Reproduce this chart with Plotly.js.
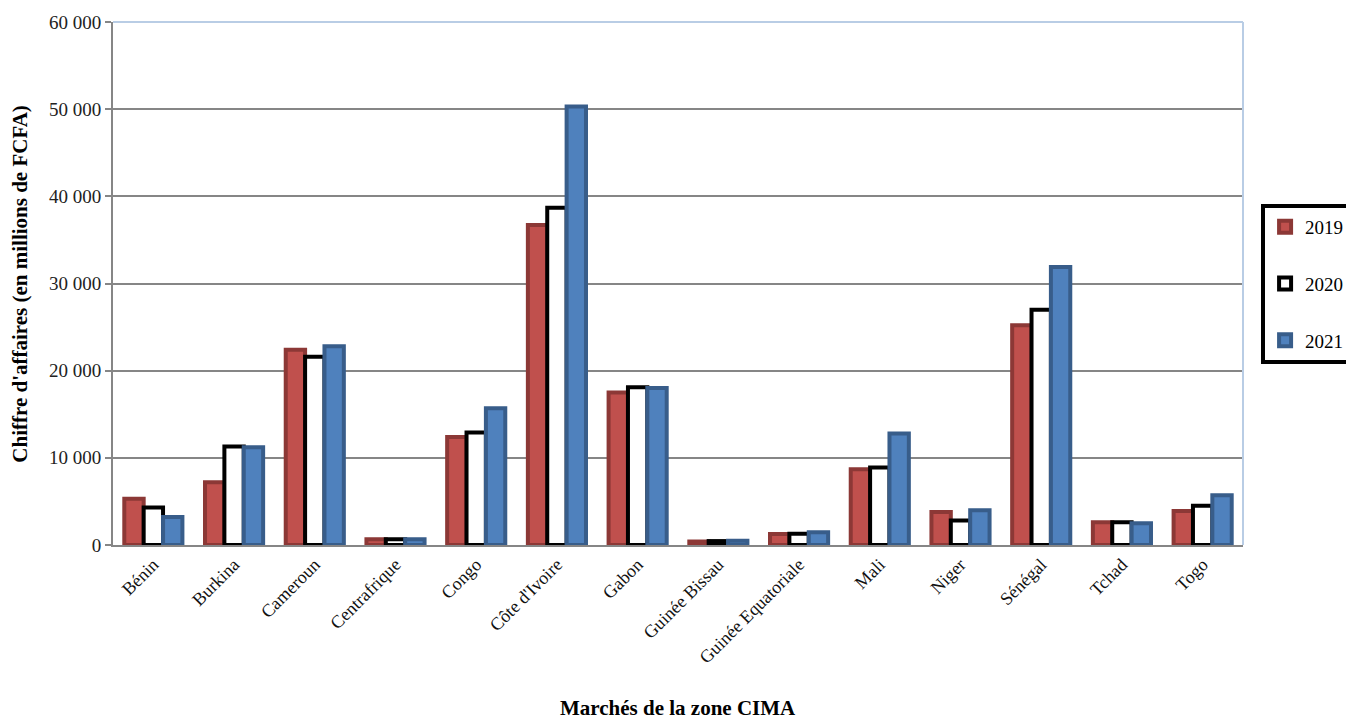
<!DOCTYPE html>
<html>
<head>
<meta charset="utf-8">
<script src="https://cdn.plot.ly/plotly-3.0.1.min.js"></script>
<style>html,body{margin:0;padding:0;background:#fff;}#chart{width:1346px;height:721px;}</style>
</head>
<body>
<div id="chart"></div>
<script>
const categories = ["Bénin","Burkina","Cameroun","Centrafrique","Congo","Côte d'Ivoire","Gabon","Guinée Bissau","Guinée Equatoriale","Mali","Niger","Sénégal","Tchad","Togo"];
const values2019 = [5300, 7200, 22400, 650, 12400, 36700, 17500, 400, 1250, 8700, 3800, 25200, 2600, 3900];
const values2020 = [4300, 11300, 21600, 650, 12900, 38700, 18100, 450, 1300, 8900, 2800, 27000, 2600, 4500];
const values2021 = [3200, 11200, 22800, 650, 15700, 50300, 18000, 500, 1450, 12800, 4000, 31900, 2500, 5700];
const seriesNames = ["2019","2020","2021"];

const font = "Liberation Serif, Times New Roman, serif";
const styles = [
  {fill:"#c0504d", line:"#8c3836"},
  {fill:"#ffffff", line:"#000000"},
  {fill:"#4f81bd", line:"#385d8a"}
];
const allVals = [values2019, values2020, values2021];
const traces = allVals.map((v,i)=>({
  type:"bar", x:categories, y:v, name:seriesNames[i], legendgroup:"g"+i,
  marker:{color:styles[i].fill, line:{color:styles[i].line, width:4}}
}));

const layout = {
  width:1346, height:721,
  margin:{l:113, r:103, t:22, b:176, autoexpand:false},
  paper_bgcolor:"#fff", plot_bgcolor:"#fff",
  separators:", ",
  barmode:"group", bargap:0.28, bargroupgap:0,
  font:{family:font, color:"#000", size:18},
  xaxis:{
    type:"category", tickangle:-45, showgrid:false,
    showline:true, linecolor:"#868686", linewidth:2,
    ticks:"", tickfont:{family:font, size:18, color:"#111"}
  },
  yaxis:{
    range:[0,60000], dtick:10000, tickformat:",d",
    showgrid:true, gridcolor:"#868686", gridwidth:1.5,
    showline:true, linecolor:"#868686", linewidth:2,
    ticks:"outside", ticklen:6, tickcolor:"#868686", tickwidth:1.5,
    tickfont:{family:font, size:19, color:"#222"},
    zeroline:false
  },
  legend:{
    x:1.016, xanchor:"left", y:0.652, yanchor:"top",
    bordercolor:"#000", borderwidth:4, bgcolor:"#fff",
    font:{family:font, size:19}, tracegroupgap:29, traceorder:"grouped",
    itemwidth:30
  },
  annotations:[
    {text:"<b>Marchés de la zone CIMA</b>", xref:"paper", yref:"paper", x:0.5, y:-0.311, xanchor:"center", yanchor:"middle", showarrow:false, font:{family:font, size:21, color:"#000"}},
    {text:"<b>Chiffre d'affaires (en millions de FCFA)</b>", xref:"paper", yref:"paper", x:-0.083, y:0.5, xanchor:"center", yanchor:"middle", textangle:-90, showarrow:false, font:{family:font, size:21, color:"#000"}}
  ],
  shapes:[
    {type:"line", xref:"paper", yref:"paper", x0:0, x1:1, y0:1, y1:1, line:{color:"#b9cde5", width:2}},
    {type:"line", xref:"paper", yref:"paper", x0:1, x1:1, y0:0, y1:1, line:{color:"#b9cde5", width:2}}
  ]
};
Plotly.newPlot("chart", traces, layout, {displayModeBar:false});
</script>
</body>
</html>
